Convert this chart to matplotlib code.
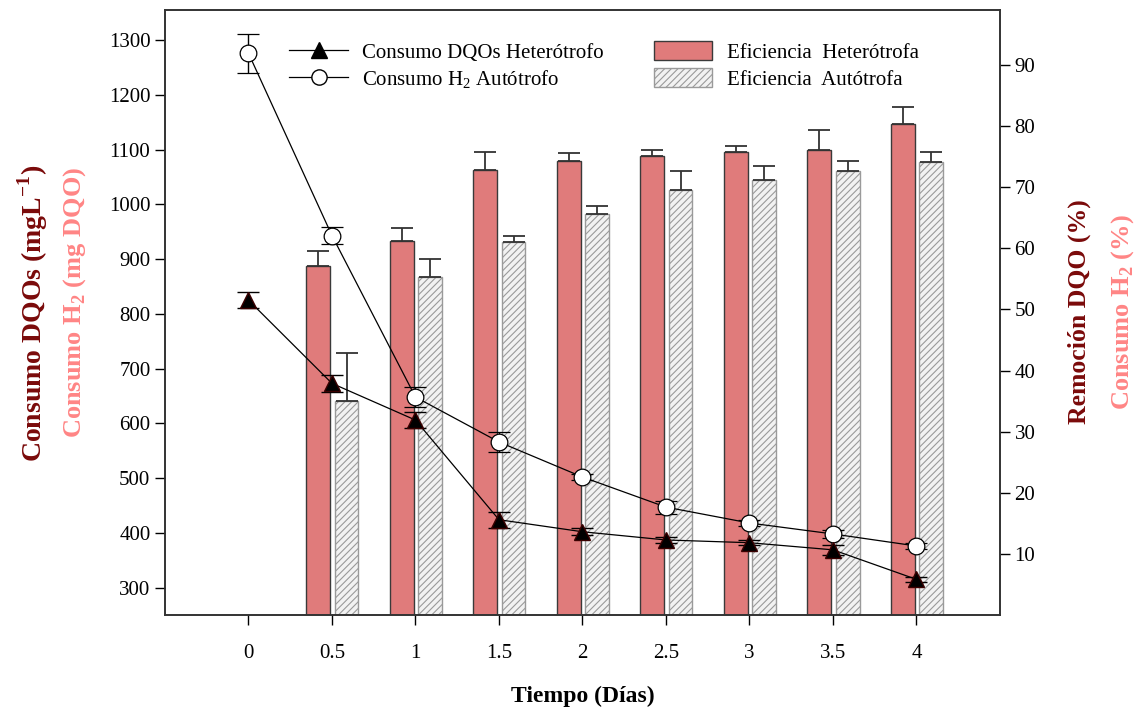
import numpy as np
import matplotlib.pyplot as plt
from matplotlib.lines import Line2D
from matplotlib.patches import Patch

plt.rcParams['font.family'] = 'Liberation Serif'
plt.rcParams['mathtext.fontset'] = 'custom'
plt.rcParams['mathtext.rm'] = 'Liberation Serif'
plt.rcParams['mathtext.bf'] = 'Liberation Serif:bold'
plt.rcParams['hatch.color'] = '#9a9a9a'
plt.rcParams['hatch.linewidth'] = 0.8

# data
dias = ['0', '0.5', '1', '1.5', '2', '2.5', '3', '3.5', '4']
dqo_het = [825, 673, 606, 424, 402, 387, 382, 369, 315]
dqo_het_err = [15, 15, 14, 15, 6, 5, 5, 9, 5]
h2_aut = [1276, 943, 648, 566, 502, 447, 418, 398, 376]
h2_aut_err = [36, 16, 18, 19, 5, 12, 6, 7, 5]

# bars start at day 0.5
ef_het = [57.1, 61.2, 72.8, 74.3, 75.1, 75.8, 76.1, 80.4]
ef_het_err = [2.5, 2.1, 3.0, 1.3, 1.0, 0.9, 3.3, 2.7]
ef_aut = [35.0, 55.3, 61.0, 65.6, 69.6, 71.2, 72.7, 74.1]
ef_aut_err = [7.9, 2.9, 1.0, 1.4, 3.1, 2.3, 1.6, 1.7]

x = np.arange(len(dias))
xb = x[1:]

fig = plt.figure(figsize=(11.37, 7.09), dpi=100)
ax = fig.add_axes([0.1451, 0.1326, 0.7344, 0.8533])
ax2 = ax.twinx()

# bars on the right axis
w = 0.285
ax2.bar(xb - 0.165, ef_het, w, color='#e07b7b', edgecolor='#3a3a3a', linewidth=1.0)
ax2.errorbar(xb - 0.165, ef_het, yerr=[np.zeros(len(ef_het)), ef_het_err], fmt='none',
             ecolor='#333333', elinewidth=1.3, capsize=8, capthick=1.3)
ax2.bar(xb + 0.175, ef_aut, w, color='#f2f2f2', edgecolor='#9a9a9a', hatch='/////', linewidth=1.0)
ax2.errorbar(xb + 0.175, ef_aut, yerr=[np.zeros(len(ef_aut)), ef_aut_err], fmt='none',
             ecolor='#333333', elinewidth=1.3, capsize=8, capthick=1.3)
ax2.set_ylim(0, 99)
ax2.set_yticks(np.arange(10, 91, 10))

# lines on the left axis, drawn above the bars
ax.set_zorder(ax2.get_zorder() + 1)
ax.patch.set_visible(False)
ax.errorbar(x, h2_aut, yerr=h2_aut_err, color='black', lw=0.9, marker='o', ms=12,
            mfc='white', mec='black', mew=0.9, ecolor='black', elinewidth=1.0,
            capsize=8, capthick=1.0)
ax.errorbar(x, dqo_het, yerr=dqo_het_err, color='black', lw=0.9, marker='^', ms=11,
            mfc='black', mec='#3a0000', ecolor='black', elinewidth=1.0,
            capsize=8, capthick=1.0)
ax.set_ylim(250, 1355)
ax.set_yticks(np.arange(300, 1301, 100))
ax.set_xlim(-1, 9)
ax.set_xticks(x)
ax.set_xticklabels(dias)

for a in (ax, ax2):
    a.tick_params(labelsize=15, length=7, width=1, direction='out')
    for s in a.spines.values():
        s.set_linewidth(1.2)
        s.set_color('#333333')
ax.tick_params(axis='x', pad=14)
ax.set_xlabel('Tiempo (Días)', fontsize=17, fontweight='bold', labelpad=16)

# axis titles in two colours
dark = '#7a0a0a'
pink = '#ff8585'
fig.text(0.029, 0.558, 'Consumo DQOs (mgL$^{\\mathbf{-1}}$)', rotation=90, color=dark,
         fontsize=20, fontweight='bold', ha='center', va='center')
fig.text(0.066, 0.574, 'Consumo H$_\\mathbf{2}$ (mg DQO)', rotation=90, color=pink,
         fontsize=19, fontweight='bold', ha='center', va='center')
fig.text(0.949, 0.561, 'Remoción DQO (%)', rotation=90, color=dark,
         fontsize=18.5, fontweight='bold', ha='center', va='center')
fig.text(0.987, 0.560, 'Consumo H$_\\mathbf{2}$ (%)', rotation=90, color=pink,
         fontsize=19, fontweight='bold', ha='center', va='center')

handles = [
    Line2D([], [], color='black', lw=0.9, marker='^', ms=11, mfc='black', mec='black'),
    Line2D([], [], color='black', lw=0.9, marker='o', ms=11, mfc='white', mec='black'),
    Patch(facecolor='#e07b7b', edgecolor='#3a3a3a'),
    Patch(facecolor='#f2f2f2', edgecolor='#9a9a9a', hatch='/////'),
]
labels = ['Consumo DQOs Heterótrofo', 'Consumo H$_2$ Autótrofo',
          'Eficiencia  Heterótrofa', 'Eficiencia  Autótrofa']
ax.legend(handles, labels, ncol=2, loc='upper left', bbox_to_anchor=(0.238, 0.968),
          bbox_transform=fig.transFigure, frameon=False, fontsize=15,
          handlelength=2.8, handleheight=1.0, handletextpad=0.7, columnspacing=2.4,
          labelspacing=0.25)

fig.savefig('out.png', dpi=100)
